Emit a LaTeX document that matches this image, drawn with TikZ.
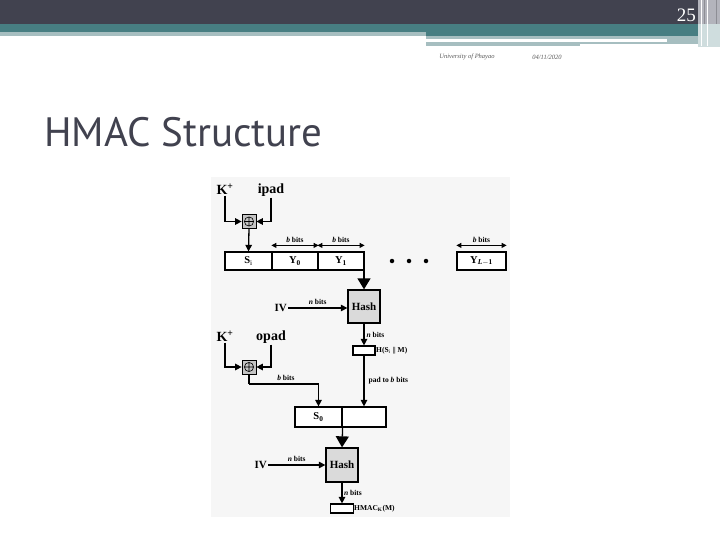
\documentclass[tikz,border=0pt]{standalone}
\usepackage{fontspec}
\setmainfont{Liberation Serif}
\newfontfamily\titlefont{PT Sans}
\usetikzlibrary{arrows.meta}
\definecolor{hdark}{HTML}{41424F}
\definecolor{hteal}{HTML}{477E82}
\definecolor{hlight}{HTML}{A6BEC0}
\definecolor{hbar}{HTML}{B3B4BC}
\definecolor{hbarl}{HTML}{CFDDDE}
\definecolor{imgbg}{HTML}{F6F6F6}
\definecolor{hashfill}{HTML}{DADADA}
\definecolor{xorfill}{HTML}{C4C4C4}
\begin{document}
\begin{tikzpicture}[x=1pt,y=-1pt,
  ln/.style={line width=1.3pt},
  tip/.style={ln,-{Triangle[length=6.5pt,width=6.5pt]}},
  bigtip/.style={ln,-{Triangle[length=11pt,width=13pt]}},
  dtip/.style={line width=1pt,{Triangle[length=5pt,width=5pt]}-{Triangle[length=5pt,width=5pt]}},
  cell/.style={draw,line width=1.2pt,fill=white,minimum height=18pt,inner sep=0pt,font=\bfseries\fontsize{10.5}{10.5}\selectfont},
  hashbox/.style={draw,line width=1.3pt,fill=hashfill,minimum width=32pt,minimum height=33pt,inner sep=0pt,font=\bfseries\fontsize{11}{11}\selectfont},
  smallbox/.style={draw,line width=1.2pt,fill=white,minimum width=22pt,minimum height=9pt,inner sep=0pt},
  xorbox/.style={draw,line width=0.7pt,fill=xorfill,minimum size=14pt,inner sep=0pt,
    path picture={\draw[line width=0.6pt] (path picture bounding box.center) circle[radius=4.6pt]
      ([xshift=-4.6pt]path picture bounding box.center) -- ([xshift=4.6pt]path picture bounding box.center)
      ([yshift=-4.6pt]path picture bounding box.center) -- ([yshift=4.6pt]path picture bounding box.center);}},
  biglbl/.style={inner sep=1pt,font=\bfseries\fontsize{14}{14}\selectfont},
  ivlbl/.style={inner sep=1pt,font=\bfseries\fontsize{11}{11}\selectfont},
  bitlbl/.style={inner sep=0pt,font=\bfseries\fontsize{7.5}{7.5}\selectfont},
  dot/.style={circle,fill=black,minimum size=4.5pt,inner sep=0pt}
]
\useasboundingbox (0,0) rectangle (720,540);
% header bands
\fill[white] (0,0) rectangle (720,540);
\fill[hdark] (0,0) rectangle (720,24);
\fill[hteal] (0,24) rectangle (698,32);
\fill[hteal] (426,32) rectangle (698,36);
\fill[hlight] (0,32) rectangle (426,36);
\fill[hlight] (426,36) rectangle (698,46);
\fill[white] (426,39) rectangle (667,42);
\fill[white] (580,44.5) rectangle (698,46);
\fill[hbar] (698,0) rectangle (720,24);
\fill[hbarl] (698,24) rectangle (720,47);
\draw[white,line width=1pt] (701,0) -- (701,46) (707,0) -- (707,46);
\draw[hdark!60,line width=0.6pt] (704,0) -- (704,24) (716,0) -- (716,24);
\node[anchor=east,text=white,inner sep=0pt,font=\fontsize{19}{19}\selectfont] (pg) at (696,15) {25};
\node[text=black!65,inner sep=0pt,font=\itshape\fontsize{6.5}{6.5}\selectfont] (univ) at (467,57) {University of Phayao};
\node[text=black!65,inner sep=0pt,font=\itshape\fontsize{6.5}{6.5}\selectfont] (date) at (547,57) {04/11/2020};
% title
\node[anchor=base west,inner sep=0pt,text=hdark,font=\titlefont\fontsize{41}{41}\selectfont] (title) at (44,147) {HMAC Structure};
% image background
\fill[imgbg] (211,177) rectangle (510,517);
% inner hash
\node[biglbl] (K1) at (225,189) {K\textsuperscript{+}};
\node[biglbl] (ipad) at (271,190) {ipad};
\node[xorbox] (x1) at (249,221.5) {};
\node[cell,minimum width=47pt] (Si) at (248.5,261) {S$_{\mathrm{i}}$};
\node[cell,minimum width=46pt] (Y0) at (295,261) {Y$_{\mathbf{0}}$};
\node[cell,minimum width=46pt] (Y1) at (341,261) {Y$_{\mathbf{1}}$};
\node[cell,minimum width=49pt] (YL) at (481.5,261) {Y$_{\mbox{\fontsize{7.5}{7.5}\selectfont\bfseries\itshape L}\mathbf{-1}}$};
\node[dot] (d1) at (392,261) {};
\node[dot] (d2) at (409,261) {};
\node[dot] (d3) at (426,261) {};
\draw[tip] (K1.south) |- (x1.west);
\draw[tip] (ipad.south) |- (x1.east);
\draw[tip] (x1.south) -- (Si.north);
\draw[dtip] ([yshift=6pt]Y0.north west) -- ([yshift=6pt]Y0.north east) node[bitlbl,midway,above=2.5pt] (bY0) {\textit{b} bits};
\draw[dtip] ([yshift=6pt]Y1.north west) -- ([yshift=6pt]Y1.north east) node[bitlbl,midway,above=2.5pt] (bY1) {\textit{b} bits};
\draw[dtip] ([yshift=6pt]YL.north west) -- ([yshift=6pt]YL.north east) node[bitlbl,midway,above=2.5pt] (bYL) {\textit{b} bits};
\node[hashbox] (h1) at (364,306.5) {Hash};
\draw[bigtip] (Y1.south east -| h1.north) -- (h1.north);
\node[ivlbl,anchor=east] (iv1) at (288,308) {IV};
\draw[tip] (iv1.east) -- (iv1.east -| h1.west) node[bitlbl,midway,above=3pt] (nb1) {\textit{n} bits};
\node[smallbox] (hb) at (364,350.5) {};
\draw[tip] (h1.south) -- (hb.north) node[bitlbl,midway,right=2pt] (nb2) {\textit{n} bits};
\node[bitlbl,anchor=west] (hlbl) at (376,351) {H(S$_{\mathrm{i}}$ \textbar\textbar\ M)};
% outer hash
\node[biglbl] (K2) at (225,336) {K\textsuperscript{+}};
\node[biglbl] (opad) at (271,337) {opad};
\node[xorbox] (x2) at (249,367) {};
\draw[tip] (K2.south) |- (x2.west);
\draw[tip] (opad.south) |- (x2.east);
\node[cell,minimum width=47pt,minimum height=20pt] (S0) at (318.5,417) {S$_{\mathbf{0}}$};
\node[cell,minimum width=44pt,minimum height=20pt] (R) at (364,417) {};
\coordinate (c2) at (249,384);
\draw[ln] (x2.south) -- (c2);
\draw[tip] (c2) -| (S0.north);
\node[bitlbl] (bS0) at (286,378) {\textit{b} bits};
\draw[tip] (hb.south) -- (R.north) node[bitlbl,pos=0.5,right=4pt] (pad) {pad to \textit{b} bits};
\node[hashbox,minimum height=34pt] (h2) at (342,465) {Hash};
\draw[bigtip] (S0.south east) -- (h2.north);
\node[ivlbl,anchor=east] (iv2) at (268,465) {IV};
\draw[tip] (iv2.east) -- (h2.west) node[bitlbl,midway,above=3pt] (nb3) {\textit{n} bits};
\node[smallbox,minimum width=23pt] (fb) at (342,508.5) {};
\draw[tip] (h2.south) -- (fb.north) node[bitlbl,midway,right=1.5pt] (nb4) {\textit{n} bits};
\node[bitlbl,anchor=west] (hmac) at (354,509) {HMAC$_{\mathrm{\mathbf{K}}}$(M)};
\end{tikzpicture}
\end{document}
